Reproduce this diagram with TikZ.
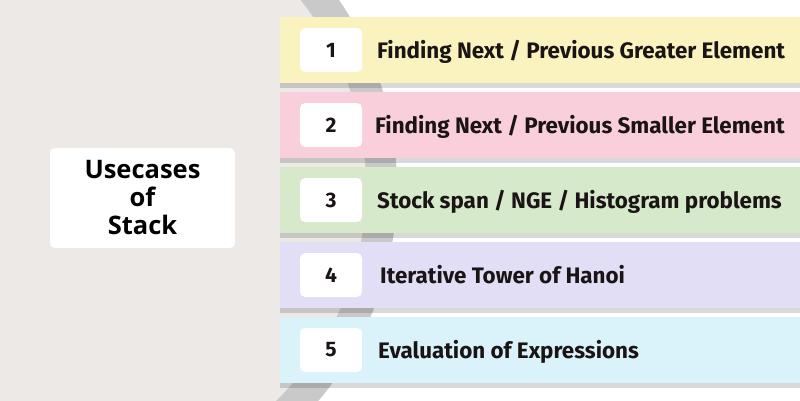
\documentclass[tikz,border=0pt]{standalone}
\usepackage{fontspec}
\setmainfont{Fira Sans}
\newfontfamily\titlefont{Open Sans}
\usepackage{xcolor}
\usetikzlibrary{shadows}

\definecolor{bgGray}{HTML}{ECE9E7}
\definecolor{bandGray}{HTML}{C9C9C9}
\definecolor{barYellow}{HTML}{FAF3C0}
\definecolor{barPink}{HTML}{F9CFDB}
\definecolor{barGreen}{HTML}{D6E9CB}
\definecolor{barLavender}{HTML}{E1DEF5}
\definecolor{barBlue}{HTML}{DAF2F9}
\definecolor{inkBlack}{HTML}{1A1414}

\begin{document}
\begin{tikzpicture}[x=1pt,y=-1pt,
        bar/.style = {fill=#1, draw=none, anchor=north west, inner sep=0pt,
            minimum width=520pt, minimum height=66pt,
            drop shadow={shadow xshift=0pt, shadow yshift=-5pt, opacity=0.15, fill=black}},
        numbox/.style = {fill=white, rounded corners=5pt, minimum width=62pt, minimum height=44pt,
            inner sep=0pt, text=inkBlack, font=\bfseries\fontsize{21}{24}\selectfont},
        item/.style = {anchor=base west, inner sep=0pt, text=inkBlack,
            font=\bfseries\fontsize{22.4}{26}\selectfont},
    ]
    \useasboundingbox (0,0) rectangle (800,400);
    % background and curved band
    \begin{scope}
        \clip (0,0) rectangle (800,400);
        \fill[white] (0,0) rectangle (800,400);
        \fill[bandGray] (67,187) circle[radius=330pt];
        \fill[bgGray] (67,187) circle[radius=299pt];
    \end{scope}
    % title box
    \node[fill=white, rounded corners=5pt, minimum width=185pt, minimum height=100pt,
        align=center, text=black, font=\titlefont\bfseries\fontsize{25.5}{28}\selectfont]
        (title) at (142.5,198) {Usecases\\of\\Stack};
    % Item 1
    \node[bar=barYellow] (bar1) at (280,17) {};
    \node[numbox] (num1) at (331,50) {1};
    \node[item] (txt1) at (377,58.5) {Finding Next / Previous Greater Element};
    % Item 2
    \node[bar=barPink] (bar2) at (280,92) {};
    \node[numbox] (num2) at (331,125) {2};
    \node[item] (txt2) at (375,133.5) {Finding Next / Previous Smaller Element};
    % Item 3
    \node[bar=barGreen] (bar3) at (280,167) {};
    \node[numbox] (num3) at (331,200) {3};
    \node[item] (txt3) at (377,208.5) {Stock span / NGE / Histogram problems};
    % Item 4
    \node[bar=barLavender] (bar4) at (280,242) {};
    \node[numbox] (num4) at (331,275) {4};
    \node[item] (txt4) at (380,283.5) {Iterative Tower of Hanoi};
    % Item 5
    \node[bar=barBlue] (bar5) at (280,317) {};
    \node[numbox] (num5) at (331,350) {5};
    \node[item] (txt5) at (378,358.5) {Evaluation of Expressions};
\end{tikzpicture}
\end{document}
